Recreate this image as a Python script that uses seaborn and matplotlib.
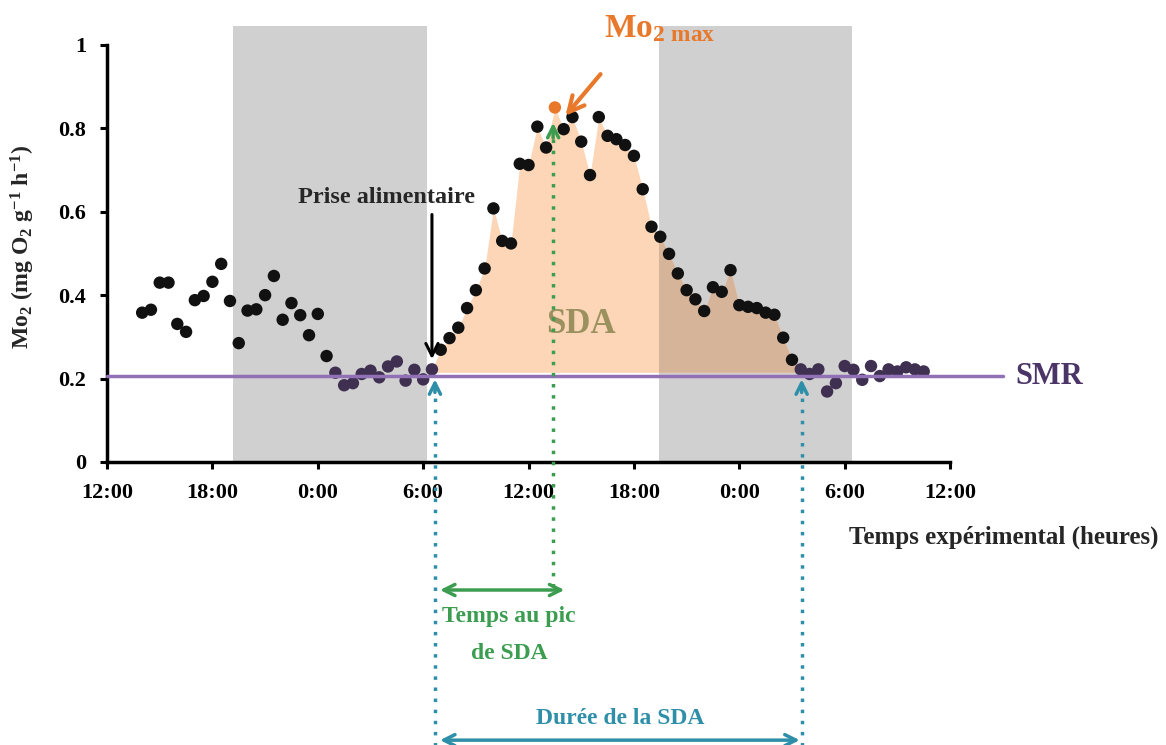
import numpy as np
import pandas as pd
import seaborn as sns
import matplotlib.pyplot as plt

# time in hours since 12:00 on day 1, MO2 in mg O2 g-1 h-1
hours = [2.0, 2.5, 3.0, 3.5, 4.0, 4.5, 5.0, 5.5, 6.0, 6.5, 7.0, 7.5, 8.0, 8.5,
         9.0, 9.5, 10.0, 10.5, 11.0, 11.5, 12.0, 12.5, 13.0, 13.5, 14.0, 14.5,
         15.0, 15.5, 16.0, 16.5, 17.0, 17.5, 18.0, 18.5,
         19.0, 19.5, 20.0, 20.5, 21.0, 21.5, 22.0, 22.5, 23.0, 23.5, 24.0, 24.5,
         25.0, 25.5, 26.0, 26.5, 27.0, 27.5, 28.0, 28.5, 29.0, 29.5, 30.0, 30.5,
         31.0, 31.5, 32.0, 32.5,
         33.0, 33.5, 34.0, 34.5, 35.0, 35.5, 36.0, 36.5, 37.0, 37.5, 38.0, 38.5,
         39.0, 39.5, 40.0, 40.5, 41.0, 41.5, 42.0, 42.5, 43.0, 43.5, 44.0, 44.5,
         45.0, 45.5, 46.0, 46.5]
mo2 = [0.358, 0.365, 0.430, 0.430, 0.331, 0.312, 0.388, 0.398, 0.432, 0.475,
       0.386, 0.285, 0.363, 0.366, 0.400, 0.446, 0.341, 0.381, 0.352, 0.304,
       0.355, 0.254, 0.214, 0.184, 0.189, 0.211, 0.219, 0.203, 0.229, 0.241,
       0.195, 0.221, 0.198, 0.222,
       0.269, 0.297, 0.322, 0.369, 0.412, 0.464, 0.608, 0.530, 0.524, 0.715,
       0.712, 0.804, 0.754, 0.850, 0.798, 0.827, 0.768, 0.688, 0.827, 0.782,
       0.774, 0.760, 0.734, 0.654, 0.564, 0.540, 0.499, 0.452,
       0.412, 0.390, 0.362, 0.419, 0.408, 0.460, 0.376, 0.372, 0.369, 0.358,
       0.353, 0.298, 0.245, 0.222, 0.211, 0.222, 0.169, 0.189, 0.230, 0.221,
       0.197, 0.230, 0.206, 0.222, 0.217, 0.227, 0.222, 0.217]

smr = 0.205
night_periods = [(7.2, 18.2), (31.4, 42.4)]
tick_hours = [0, 6, 12, 18, 24, 30, 36, 42, 48]
tick_labels = ['12:00', '18:00', '0:00', '6:00', '12:00', '18:00', '0:00', '6:00', '12:00']
y_ticks = [0, 0.2, 0.4, 0.6, 0.8, 1]
y_labels = ['0', '0.2', '0.4', '0.6', '0.8', '1']
meal_time = 18.5
sda_end = 39.5
peak_time = 25.4
meal_line = 18.67
end_line = 39.55

df = pd.DataFrame({'t': hours, 'mo2': mo2})
df['band'] = np.where(df['mo2'] < 0.243, 'smr', 'high')
df['band'] = np.where(df['mo2'] == df['mo2'].max(), 'max', df['band'])

sns.set_style('ticks')
plt.rcParams['font.family'] = ['Liberation Serif', 'DejaVu Serif']
plt.rcParams['font.weight'] = 'bold'
plt.rcParams['mathtext.fontset'] = 'custom'
plt.rcParams['mathtext.rm'] = 'Liberation Serif:bold'
plt.rcParams['mathtext.it'] = 'Liberation Serif:bold'
plt.rcParams['mathtext.bf'] = 'Liberation Serif:bold'

fig = plt.figure(figsize=(11.66, 7.45), dpi=100)
ax = fig.add_axes([0.0918, 0.3799, 0.7230, 0.5850])

# night shading
spans = []
for a, b in night_periods:
    spans.append(ax.axvspan(a, b, color='#d0d0d0', lw=0, zorder=0))

# SDA area
sda = df[(df['t'] >= meal_time) & (df['t'] <= sda_end)]
ax.fill_between(sda['t'], sda['mo2'], smr + 0.01, color='#fcd6b6', lw=0, zorder=1)
dark = ax.fill_between(sda['t'], sda['mo2'], smr + 0.01, color='#d6b49a', lw=0, zorder=1.5)
dark.set_clip_path(spans[1])

sns.scatterplot(data=df, x='t', y='mo2', hue='band',
                palette={'high': '#111111', 'smr': '#3f3052', 'max': '#e8782a'},
                s=80, edgecolor='none', legend=False, zorder=3, ax=ax)

ax.plot([0, 51], [smr, smr], color='#9170b5', lw=2.5, zorder=4, clip_on=False)
ax.text(51.7, smr, 'SMR', color='#4b3566', fontsize=22, va='center', ha='left')

ax.set_xlim(0, 48)
ax.set_ylim(0, 1.045)
ax.set_xticks(tick_hours)
ax.set_xticklabels(tick_labels)
ax.set_yticks(y_ticks)
ax.set_yticklabels(y_labels)
ax.tick_params(axis='both', labelsize=16, width=2.2, length=5, direction='out', pad=10, colors='black')
for s in ['top', 'right']:
    ax.spines[s].set_visible(False)
for s in ['left', 'bottom']:
    ax.spines[s].set_linewidth(2.5)
    ax.spines[s].set_color('black')
ax.spines['left'].set_bounds(0, 1)
ax.set_xlabel('')
ax.set_ylabel('')

fig.text(0.020, 0.668, 'Mo$_2$ (mg O$_2$ g$^{-1}$ h$^{-1}$)', rotation=90,
         fontsize=17, ha='center', va='center')
fig.text(0.861, 0.279, 'Temps expérimental (heures)', fontsize=18, ha='center', va='center')

# food intake
ax.annotate('', xy=(meal_time, 0.24), xytext=(meal_time, 0.60),
            arrowprops=dict(arrowstyle='->', color='black', lw=2.2, mutation_scale=22))
ax.text(15.9, 0.633, 'Prise alimentaire', fontsize=17.5, ha='center', va='center')

# MO2 max
ax.annotate('', xy=(26.0, 0.825), xytext=(28.2, 0.935),
            arrowprops=dict(arrowstyle='->', color='#e8782a', lw=3, mutation_scale=28),
            annotation_clip=False)
ax.text(28.3, 1.04, 'Mo$_{2\\ max}$', color='#e8782a', fontsize=24, ha='left', va='center')

ax.text(27.0, 0.33, 'SDA', color='#9b915f', fontsize=25, ha='center', va='center', zorder=2)

# time to peak
green = '#3c9d50'
ax.plot([peak_time, peak_time], [-0.30, 0.80], color=green, lw=2.5, ls=(0, (1, 2.2)),
        clip_on=False, zorder=5)
ax.annotate('', xy=(peak_time, 0.82), xytext=(peak_time, 0.77),
            arrowprops=dict(arrowstyle='->', color=green, lw=2.5, mutation_scale=20), zorder=5)
ax.annotate('', xy=(18.8, -0.307), xytext=(26.2, -0.307),
            arrowprops=dict(arrowstyle='<->', color=green, lw=2.5, mutation_scale=20),
            annotation_clip=False)
ax.text(22.9, -0.415, 'Temps au pic\nde SDA', color=green, fontsize=17,
        ha='center', va='center', linespacing=2.0)

# SDA duration
teal = '#2f8fa8'
for xl in [meal_line, end_line]:
    ax.plot([xl, xl], [-0.68, 0.19], color=teal, lw=2.5, ls=(0, (1, 2.2)),
            clip_on=False, zorder=5)
    ax.annotate('', xy=(xl, 0.205), xytext=(xl, 0.16),
                arrowprops=dict(arrowstyle='->', color=teal, lw=2.5, mutation_scale=20),
                annotation_clip=False, zorder=5)
ax.annotate('', xy=(18.8, -0.667), xytext=(39.6, -0.667),
            arrowprops=dict(arrowstyle='<->', color=teal, lw=2.5, mutation_scale=20),
            annotation_clip=False)
ax.text(29.2, -0.614, 'Durée de la SDA', color=teal, fontsize=17, ha='center', va='center')

fig.savefig('out.png', dpi=100)
